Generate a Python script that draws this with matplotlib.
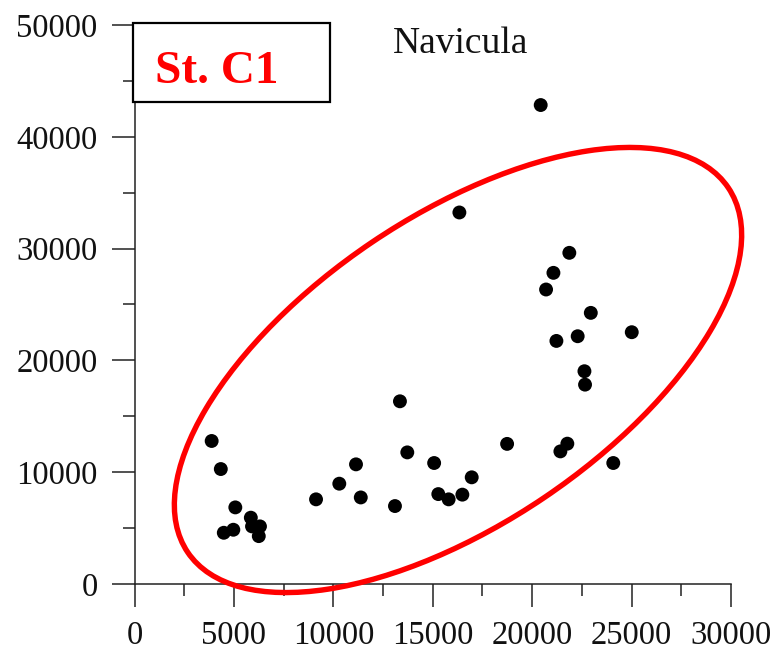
import numpy as np
import matplotlib
matplotlib.use("Agg")
import matplotlib.pyplot as plt
from matplotlib.patches import Ellipse, Rectangle
from matplotlib.ticker import MultipleLocator

plt.rcParams['font.family'] = ['Liberation Serif', 'DejaVu Serif']

# cell counts at St. C1
x_vals = [3880, 4340, 5070, 5850, 6310, 5910, 6250, 4970, 4490,
          9130, 10300, 11140, 11380, 13350, 13720, 13100, 15070, 15280,
          15800, 16490, 16960, 16340, 18740, 20430, 21870, 21070, 20700,
          22950, 22290, 21220, 25010, 22630, 22660, 21770, 21420, 24080]
y_vals = [12790, 10280, 6850, 5930, 5150, 5150, 4280, 4850, 4580,
          7570, 8970, 10700, 7740, 16340, 11770, 6970, 10820, 8040,
          7570, 7990, 9540, 33230, 12530, 42840, 29620, 27830, 26340,
          24250, 22160, 21740, 22520, 19030, 17830, 12550, 11860, 10820]

station = "St. C1"
taxon = "Navicula"

fig = plt.figure(figsize=(7.74, 6.56), dpi=100)
ax = fig.add_axes([0.1738, 0.1098, 0.9444 - 0.1738, 0.9619 - 0.1098])

ax.scatter(x_vals, y_vals, s=100, color='black', edgecolors='none', zorder=3)

ax.set_xlim(0, 30000)
ax.set_ylim(0, 50000)
ax.xaxis.set_major_locator(MultipleLocator(5000))
ax.xaxis.set_minor_locator(MultipleLocator(2500))
ax.yaxis.set_major_locator(MultipleLocator(10000))
ax.yaxis.set_minor_locator(MultipleLocator(5000))

for side in ['top', 'right']:
    ax.spines[side].set_visible(False)
for side in ['left', 'bottom']:
    ax.spines[side].set_linewidth(1.1)
    ax.spines[side].set_color('#222222')

ax.tick_params(which='major', length=16.5, width=1.1, color='#222222',
               labelsize=23.5, labelcolor='#111111', pad=10)
ax.tick_params(which='minor', length=8.3, width=1.1, color='#222222')

fig.text(4.61, 6.03, taxon, transform=fig.dpi_scale_trans,
         ha='center', va='baseline', fontsize=27, color='#111111')

# station label box in the upper left corner
box = Rectangle((1.33, 5.54), 1.97, 0.79, transform=fig.dpi_scale_trans,
                facecolor='white', edgecolor='black', linewidth=1.6, zorder=5)
fig.patches.append(box)
fig.text(1.55, 5.73, station, transform=fig.dpi_scale_trans,
         ha='left', va='baseline', fontsize=34, fontweight='bold',
         color='#ff0000', zorder=6)

# red ring around the cluster
ring = Ellipse((4.58, 2.86), 6.52, 3.08, angle=34,
               transform=fig.dpi_scale_trans, facecolor='none',
               edgecolor='#ff0000', linewidth=3.9, zorder=4)
fig.patches.append(ring)

fig.savefig('out.png', dpi=100)
